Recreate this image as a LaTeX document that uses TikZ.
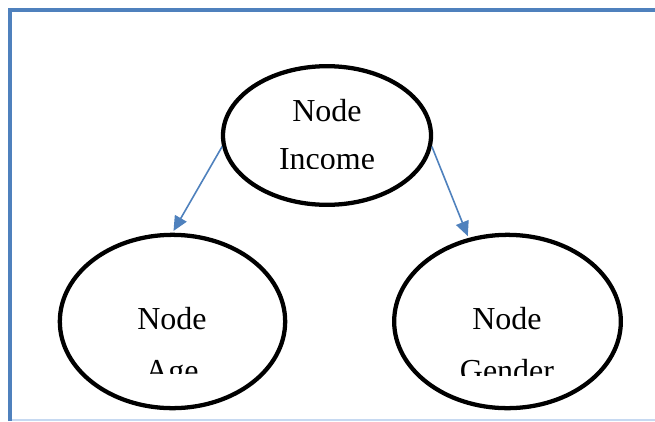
\documentclass[tikz,border=0pt]{standalone}
\usepackage{fontspec}
\setmainfont{Liberation Serif}
\usetikzlibrary{shapes.geometric,arrows.meta}
\definecolor{frameblue}{RGB}{79,129,189}
\definecolor{framelight}{RGB}{198,217,241}
\tikzset{
  varnode/.style={draw, ellipse, line width=3.2pt, inner sep=0pt},
  linkarrow/.style={draw=frameblue, line width=1.2pt, shorten >=1.5pt, -{Triangle[length=11pt,width=10pt,fill=frameblue]}},
  nodetext/.style={anchor=base, inner sep=0pt, font=\fontsize{24}{24}\selectfont}
}
\begin{document}
\begin{tikzpicture}[x=0.75pt,y=0.75pt,yscale=-1,xscale=1]
    \useasboundingbox (0,0) rectangle (655,421);

    %Frame
    \draw [draw=framelight, line width=1.5pt]   (10,420) -- (655,420) ;
    \draw [draw=frameblue, line width=3.5pt]   (10,421) -- (10,10) -- (655,10) ;

    %Shapes
    \node [varnode, minimum width=156pt, minimum height=104pt]   (income) at (327,135.5) {};
    \node [varnode, minimum width=169pt, minimum height=130pt]   (age) at (172.5,321.5) {};
    \node [varnode, minimum width=170pt, minimum height=130pt]   (gender) at (507.5,321.5) {};

    % Text Node
    \node [nodetext]   (incomea) at (327,121) {Node};
    \begin{scope}
      \clip (200,140) rectangle (460,168.5);
      \node [nodetext]   (incomeb) at (327,169) {Income};
    \end{scope}
    % Text Node
    \node [nodetext]   (agea) at (172,329) {Node};
    \begin{scope}
      \clip (60,345) rectangle (290,373);
      \node [nodetext]   (ageb) at (172,381) {Age};
    \end{scope}
    % Text Node
    \node [nodetext]   (gendera) at (507,329) {Node};
    \begin{scope}
      \clip (395,345) rectangle (620,375);
      \node [nodetext]   (genderb) at (507,381) {Gender};
    \end{scope}

    %Straight Lines
    \draw [linkarrow]   (income.186) -- (age.north) ;
    \draw [linkarrow]   (income.354) -- (gender.115) ;
    \end{tikzpicture}
\end{document}
